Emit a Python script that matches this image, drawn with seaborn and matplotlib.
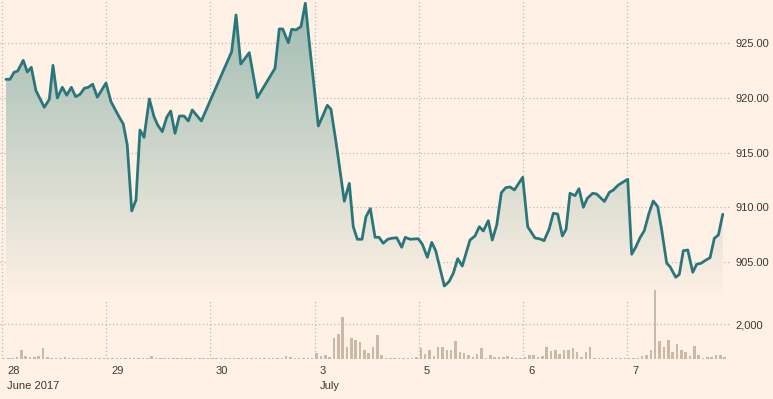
import numpy as np
import pandas as pd
import matplotlib
matplotlib.use("Agg")
import matplotlib.pyplot as plt
import seaborn as sns
from matplotlib.colors import to_rgb

# ---------------- data ----------------
day_labels = ["28", "29", "30", "3", "5", "6", "7"]
month_labels = {0: "June 2017", 3: "July"}

price_ticks = [905, 910, 915, 920, 925]
volume_ticks = [2000]

# trading-time position (in trading days from 28 June open) and price
price_time = [0.038, 0.077, 0.115, 0.151, 0.204, 0.243, 0.281, 0.326, 0.406, 0.454,
              0.489, 0.531, 0.579, 0.621, 0.665, 0.707, 0.749, 0.790, 0.828, 0.870,
              0.915, 0.998, 1.046, 1.126, 1.164, 1.202, 1.245, 1.286, 1.324, 1.363,
              1.414, 1.459, 1.494, 1.538, 1.581, 1.619, 1.660, 1.702, 1.747, 1.788,
              1.826, 1.913, 2.204, 2.246, 2.291, 2.373, 2.450, 2.620, 2.661, 2.694,
              2.748, 2.780, 2.821, 2.869, 2.911, 2.949, 3.036, 3.122, 3.157, 3.212,
              3.285, 3.333, 3.371, 3.410, 3.455, 3.493, 3.535, 3.580, 3.618, 3.659,
              3.702, 3.740, 3.788, 3.836, 3.870, 3.916, 3.995, 4.034, 4.082, 4.124,
              4.162, 4.245, 4.290, 4.331, 4.373, 4.417, 4.491, 4.539, 4.581, 4.619,
              4.667, 4.705, 4.748, 4.792, 4.834, 4.875, 4.917, 4.997, 5.045, 5.115,
              5.163, 5.202, 5.250, 5.291, 5.333, 5.378, 5.413, 5.451, 5.499, 5.537,
              5.579, 5.617, 5.669, 5.707, 5.781, 5.829, 5.867, 5.915, 6.005, 6.043,
              6.084, 6.123, 6.164, 6.209, 6.250, 6.293, 6.331, 6.379, 6.411, 6.466,
              6.500, 6.538, 6.581, 6.629, 6.667, 6.708, 6.756, 6.795, 6.836, 6.875,
              6.917]
price_value = [921.72, 921.72, 922.36, 922.48, 923.46, 922.39, 922.82, 920.68, 919.16, 919.89,
               923.00, 920.01, 920.99, 920.26, 920.99, 920.13, 920.35, 920.90, 920.99, 921.27,
               920.08, 921.38, 919.67, 918.25, 917.63, 915.71, 909.67, 910.68, 917.08, 916.41,
               919.92, 918.30, 917.54, 916.93, 918.25, 918.82, 916.78, 918.36, 918.36, 917.91,
               918.91, 917.91, 924.25, 927.61, 923.12, 924.16, 920.04, 922.73, 926.33, 926.33,
               925.07, 926.30, 926.24, 926.54, 928.68, 925.07, 917.45, 919.34, 918.98, 915.55,
               910.56, 912.20, 908.23, 907.08, 907.08, 909.15, 909.88, 907.26, 907.26, 906.71,
               907.08, 907.17, 907.22, 906.35, 907.26, 907.08, 907.13, 906.62, 905.43, 906.80,
               906.03, 902.80, 903.20, 903.97, 905.30, 904.63, 907.01, 907.38, 908.23, 907.84,
               908.78, 907.01, 908.39, 911.34, 911.80, 911.87, 911.59, 912.75, 908.23, 907.20,
               907.11, 906.95, 907.99, 909.46, 909.39, 907.38, 907.99, 911.29, 911.07, 911.71,
               910.01, 910.83, 911.29, 911.22, 910.54, 911.38, 911.59, 912.05, 912.57, 905.71,
               906.40, 907.22, 907.87, 909.46, 910.58, 910.06, 907.93, 904.88, 904.57, 903.60,
               903.87, 906.03, 906.10, 904.06, 904.79, 904.88, 905.18, 905.39, 907.17, 907.47,
               909.37]

# volume per quarter-hour slot, one list per trading day
vol_jun28 = [40, 40, 60, 110, 490, 170, 130, 130, 170, 620, 95, 75, 40, 40, 95, 40,
             40, 40, 40, 40, 40, 40, 40, 40]
vol_jun29 = [40, 40, 40, 40, 40, 40, 40, 75, 75, 40, 170, 40, 40, 40, 40, 40,
             40, 40, 40, 40, 40, 40, 40, 40]
vol_jun30 = [40, 40, 40, 40, 40, 40, 40, 40, 40, 40, 40, 40, 40, 40, 40, 40,
             40, 170, 95, 40, 40, 40, 40, 40]
vol_jul03 = [340, 190, 240, 130, 1180, 1410, 2420, 690, 1180, 1110, 960, 510, 340, 690, 1350, 225,
             40, 40, 40, 40, 40, 40, 40, 95]
vol_jul05 = [640, 280, 510, 170, 690, 690, 510, 510, 1010, 390, 320, 225, 130, 300, 620, 75,
             225, 95, 130, 130, 170, 95, 60, 40]
vol_jul06 = [130, 210, 240, 110, 190, 690, 470, 490, 300, 510, 510, 620, 390, 130, 390, 690,
             40, 40, 40, 40, 40, 40, 40, 40]
vol_jul07 = [56, 56, 56, 150, 225, 510, 3940, 1010, 690, 1070, 390, 845, 510, 390, 170, 750,
             225, 75, 95, 95, 210, 240, 95]

volume_days = [vol_jun28, vol_jun29, vol_jun30, vol_jul03, vol_jul05, vol_jul06, vol_jul07]

# ---------------- style ----------------
BG = "#fff1e5"
LINE = "#2a777b"
BAR = "#cbb8a6"
GRID = "#c4b9ad"
TEXT = "#3d3935"
FILL_TOP = "#9ebbb2"

sns.set_theme(style="white")
plt.rcParams["font.family"] = ["Liberation Sans", "DejaVu Sans"]

W, H = 773, 399
fig = plt.figure(figsize=(W / 100, H / 100), dpi=100, facecolor=BG)
ax = fig.add_axes([0, 40 / H, 731 / W, 359 / H])
ax.set_facecolor(BG)
ax2 = ax.twinx()
ax2.set_position(ax.get_position())

XMIN, XMAX = -0.0192, 6.996
YMIN, YMAX = 896.12, 928.98
VMAX = 359 * 2000 / 35.0

# ---------------- volume ----------------
vt, vv = [], []
for d, vals in enumerate(volume_days):
    for k, v in enumerate(vals):
        vt.append(d + 0.019 + k / 24)
        vv.append(v)
vol_df = pd.DataFrame({"t": vt, "v": vv})
ax2.bar(vol_df["t"], vol_df["v"], width=0.024, color=BAR, linewidth=0, zorder=2)

# ---------------- price gradient fill ----------------
df = pd.DataFrame({"t": price_time, "p": price_value})
fill_bottom = 901.5
poly = ax.fill_between(df["t"], df["p"], fill_bottom, facecolor="none", edgecolor="none")
top_rgb = np.array(to_rgb(FILL_TOP))
bg_rgb = np.array(to_rgb(BG))
n = 256
frac = np.linspace(0, 1, n)[:, None]
grad = (top_rgb * (1 - frac) + bg_rgb * frac).reshape(n, 1, 3)
img = ax.imshow(grad, extent=[XMIN, XMAX, fill_bottom, YMAX], aspect="auto",
                origin="upper", zorder=1, interpolation="bilinear")
img.set_clip_path(poly.get_paths()[0], transform=ax.transData)

sns.lineplot(data=df, x="t", y="p", ax=ax, color=LINE, linewidth=2.0,
             estimator=None, sort=False, zorder=3)

# ---------------- axes ----------------
for a in (ax, ax2):
    for s in a.spines.values():
        s.set_visible(False)
ax.set_xlim(XMIN, XMAX)
ax.set_ylim(YMIN, YMAX)
ax2.set_ylim(0, VMAX)
ax.set_xlabel("")
ax.set_ylabel("")
ax2.set_ylabel("")

grid_kw = dict(color=GRID, linewidth=0.9, linestyle=(0, (1, 2)))
ax.set_xticks(range(len(day_labels)))
ax.set_xticklabels([])
ax.tick_params(axis="x", length=4.5, width=0.8, color="#b8aea3", direction="out")
ax.xaxis.grid(True, **grid_kw)
ax.yaxis.grid(True, **grid_kw)
ax.set_axisbelow(True)

ax.yaxis.tick_right()
ax.set_yticks(price_ticks)
ax.set_yticklabels([f"{v:.2f}" for v in price_ticks])
ax.tick_params(axis="y", length=0, pad=3.5, labelsize=8, labelcolor=TEXT)

ax2.set_yticks(volume_ticks)
ax2.set_yticklabels([f"{v:,}" for v in volume_ticks])
ax2.tick_params(axis="y", length=0, pad=3.5, labelsize=8, labelcolor=TEXT)
ax2.yaxis.grid(True, **grid_kw)
ax2.set_xlim(XMIN, XMAX)

# baseline under the volume bars
ax2.axhline(0, color="#c9bdb1", linewidth=0.8, linestyle=(0, (3, 2)), zorder=1)

for i, lab in enumerate(day_labels):
    ax.annotate(lab, xy=(i, 0), xycoords=("data", "axes fraction"),
                xytext=(5, -12), textcoords="offset pixels",
                ha="left", va="center", fontsize=8, color=TEXT)
    if i in month_labels:
        ax.annotate(month_labels[i], xy=(i, 0), xycoords=("data", "axes fraction"),
                    xytext=(5, -27), textcoords="offset pixels",
                    ha="left", va="center", fontsize=8, color=TEXT)

fig.savefig("out.png", dpi=100, facecolor=BG)
